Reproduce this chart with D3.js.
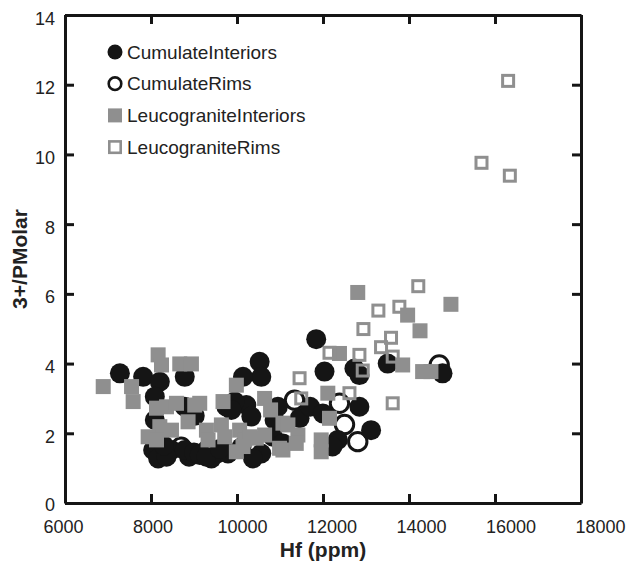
<!DOCTYPE html>
<html>
<head>
<meta charset="utf-8">
<script src="https://cdn.jsdelivr.net/npm/d3@7"></script>
<style>
  html, body { margin: 0; padding: 0; background: #fff; }
  svg { display: block; font-family: "Liberation Sans", Arial, Helvetica, sans-serif; }
</style>
</head>
<body>
<svg id="chart" width="627" height="564"></svg>
<script>
// Hf (ppm) vs 3+/P molar, zircon interiors and rims
const cumulateInteriors = [
  [7277, 3.72], [7817, 3.62], [8205, 3.48], [8785, 3.62], [8089, 3.05],
  [8785, 2.76], [8089, 2.38], [8050, 1.52], [8166, 1.28], [8476, 1.52],
  [8885, 1.33], [8360, 1.33], [8785, 1.52], [9000, 1.45], [9017, 2.50],
  [10526, 4.05], [10565, 3.62], [10139, 3.62], [10217, 2.81], [9946, 2.91],
  [9753, 2.76], [9870, 2.67], [10333, 2.48], [10874, 2.38], [10565, 1.42],
  [10371, 1.28], [9133, 1.38], [9405, 1.28], [9289, 1.33], [9791, 1.42],
  [8300, 1.65], [9600, 1.55], [10100, 1.60],
  [11842, 4.70], [12035, 3.77], [12731, 3.86], [12847, 3.67], [10951, 2.76],
  [11455, 2.43], [11700, 2.76], [11996, 2.57], [12847, 2.76], [10835, 1.90],
  [11068, 1.71], [12344, 1.81], [12220, 1.62], [13505, 4.00], [14780, 3.72],
  [13118, 2.09]
];
const cumulateRims = [
  [14703, 3.96], [11338, 2.95], [12383, 2.86], [12500, 2.25], [12808, 1.76],
  [9550, 1.45], [8700, 1.60], [9300, 1.50]
];
const leucograniteInteriors = [
  [6889, 3.34], [7548, 3.34], [7585, 2.91], [8166, 4.25], [8244, 3.96],
  [8669, 3.99], [8940, 3.99], [8128, 2.72], [8360, 2.76], [8592, 2.86],
  [9017, 2.81], [8862, 2.33], [8205, 2.19], [8476, 2.09], [7934, 1.90],
  [8128, 1.81], [9985, 3.38], [9133, 2.86], [9675, 2.91], [10642, 3.00],
  [10781, 2.67], [9289, 2.09], [9637, 2.24], [9327, 1.81], [9714, 1.90],
  [10061, 2.09], [10178, 1.81], [9985, 1.47], [10449, 1.86], [10642, 1.95],
  [10300, 1.90], [10139, 1.62], [10990, 1.57], [11068, 2.29], [11184, 2.24],
  [11416, 1.95], [11068, 1.52], [11378, 1.71], [11958, 1.81], [11958, 1.47],
  [12112, 3.15], [12151, 2.43], [12383, 4.29], [12808, 6.04], [14975, 5.70],
  [13968, 5.39], [14256, 4.94], [13853, 3.96], [14510, 3.77], [14317, 3.77]
];
const leucograniteRims = [
  [16305, 12.11], [15686, 9.76], [16345, 9.39], [14216, 6.22], [13288, 5.52],
  [13776, 5.63], [12940, 4.99], [13582, 4.74], [13350, 4.47], [12151, 4.31],
  [12847, 4.25], [13621, 4.20], [12924, 3.80], [11455, 3.58], [11494, 3.00],
  [12615, 3.15], [13621, 2.86]
];
const xTicks = [6000, 8000, 10000, 12000, 14000, 16000, 18000];
const yTicks = [0, 2, 4, 6, 8, 10, 12, 14];
const seriesNames = ["CumulateInteriors", "CumulateRims", "LeucograniteInteriors", "LeucograniteRims"];

const INK = "#151515";
const GREY = "#8f8f8f";

const svg = d3.select("#chart");
const m = { left: 65, right: 581, top: 15, bottom: 503 };

const x = d3.scaleLinear().domain([6000, 18000]).range([m.left, m.right]);
const y = d3.scaleLinear().domain([0, 14]).range([m.bottom, m.top]);
// bottom tick labels are spread slightly wider than the ticks themselves
const xLabel = d3.scaleLinear().domain([6000, 18000]).range([63, 600]);

// markers: rims first, interiors over them, then leucogranite squares
const plot = svg.append("g");

plot.append("g").selectAll("circle").data(cumulateRims).join("circle")
  .attr("cx", d => x(d[0])).attr("cy", d => y(d[1])).attr("r", 9.2)
  .attr("fill", "#fff").attr("stroke", INK).attr("stroke-width", 3);

plot.append("g").selectAll("circle").data(cumulateInteriors).join("circle")
  .attr("cx", d => x(d[0])).attr("cy", d => y(d[1])).attr("r", 10)
  .attr("fill", INK);

plot.append("g").selectAll("rect").data(leucograniteInteriors).join("rect")
  .attr("x", d => x(d[0]) - 7.5).attr("y", d => y(d[1]) - 7.5)
  .attr("width", 15).attr("height", 15).attr("fill", GREY);

plot.append("g").selectAll("rect").data(leucograniteRims).join("rect")
  .attr("x", d => x(d[0]) - 5.5).attr("y", d => y(d[1]) - 5.5)
  .attr("width", 11).attr("height", 11)
  .attr("fill", "none").attr("stroke", GREY).attr("stroke-width", 3);

// frame with inward ticks on all four sides
const tickLen = 9;
function styleAxis(g) {
  g.select(".domain").attr("stroke", INK).attr("stroke-width", 3);
  g.selectAll(".tick line").attr("stroke", INK).attr("stroke-width", 3);
  g.selectAll(".tick text").attr("fill", "#222").attr("font-size", 18)
    .attr("font-family", "Liberation Sans, Arial, sans-serif");
}

svg.append("g").attr("transform", `translate(0,${m.bottom})`)
  .call(d3.axisBottom(x).tickValues(xTicks).tickSizeInner(-tickLen).tickSizeOuter(0)
    .tickPadding(17).tickFormat(d3.format("d")))
  .call(styleAxis)
  .call(g => g.selectAll(".tick text").attr("x", d => xLabel(d) - x(d)));

svg.append("g").attr("transform", `translate(0,${m.top})`)
  .call(d3.axisTop(x).tickValues(xTicks).tickSizeInner(-tickLen).tickSizeOuter(0).tickFormat(""))
  .call(styleAxis);

svg.append("g").attr("transform", `translate(${m.left},0)`)
  .call(d3.axisLeft(y).tickValues(yTicks).tickSizeInner(-tickLen).tickSizeOuter(0)
    .tickPadding(10).tickFormat(d3.format("d")))
  .call(styleAxis)
  .call(g => g.selectAll(".tick text").attr("dy", d => d === 0 ? "0.44em" : "0.5em"));

svg.append("g").attr("transform", `translate(${m.right},0)`)
  .call(d3.axisRight(y).tickValues(yTicks).tickSizeInner(-tickLen).tickSizeOuter(0).tickFormat(""))
  .call(styleAxis);

// axis titles
svg.append("text")
  .attr("x", (m.left + m.right) / 2).attr("y", 557)
  .attr("text-anchor", "middle").attr("font-size", 21).attr("font-weight", "bold")
  .attr("fill", "#222").text("Hf (ppm)");

svg.append("text")
  .attr("transform", `translate(27,${(m.top + m.bottom) / 2}) rotate(-90)`)
  .attr("text-anchor", "middle").attr("font-size", 21).attr("font-weight", "bold")
  .attr("fill", "#222").text("3+/PMolar");

// legend
const legend = svg.append("g").attr("transform", "translate(115,52)");
const rowGap = 31.7;
seriesNames.forEach((name, i) => {
  const g = legend.append("g").attr("transform", `translate(0,${i * rowGap})`);
  if (i === 0) g.append("circle").attr("r", 7.5).attr("fill", INK);
  if (i === 1) g.append("circle").attr("r", 6.3).attr("fill", "#fff").attr("stroke", INK).attr("stroke-width", 2.6);
  if (i === 2) g.append("rect").attr("x", -7).attr("y", -7).attr("width", 14).attr("height", 14).attr("fill", GREY);
  if (i === 3) g.append("rect").attr("x", -5.7).attr("y", -5.7).attr("width", 11.4).attr("height", 11.4)
    .attr("fill", "#fff").attr("stroke", GREY).attr("stroke-width", 2.6);
  g.append("text").attr("x", 12).attr("y", 6.5).attr("font-size", 19).attr("fill", "#222").text(name);
});
</script>
</body>
</html>
